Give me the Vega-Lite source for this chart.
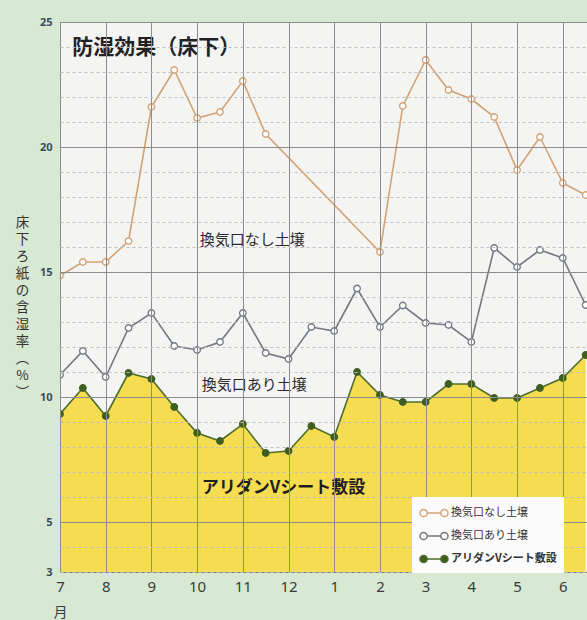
{
  "$schema": "https://vega.github.io/schema/vega-lite/v6.json",
  "width": 527,
  "height": 550,
  "autosize": {"type": "none"},
  "padding": {"left": 60, "right": 0, "top": 22, "bottom": 48},
  "background": "#d7e8d3",
  "config": {
    "view": {"fill": "#f4f5f3", "stroke": "#7d7d7d", "strokeWidth": 1},
    "font": "Noto Sans"
  },
  "datasets": {
    "series": [
      {"t": 0, "series": "換気口なし土壌", "v": 14.85},
      {"t": 0.5, "series": "換気口なし土壌", "v": 15.4},
      {"t": 1, "series": "換気口なし土壌", "v": 15.4},
      {"t": 1.5, "series": "換気口なし土壌", "v": 16.24},
      {"t": 2, "series": "換気口なし土壌", "v": 21.6},
      {"t": 2.5, "series": "換気口なし土壌", "v": 23.08},
      {"t": 3, "series": "換気口なし土壌", "v": 21.16},
      {"t": 3.5, "series": "換気口なし土壌", "v": 21.4},
      {"t": 4, "series": "換気口なし土壌", "v": 22.64},
      {"t": 4.5, "series": "換気口なし土壌", "v": 20.52},
      {"t": 7, "series": "換気口なし土壌", "v": 15.8},
      {"t": 7.5, "series": "換気口なし土壌", "v": 21.64},
      {"t": 8, "series": "換気口なし土壌", "v": 23.48},
      {"t": 8.5, "series": "換気口なし土壌", "v": 22.28},
      {"t": 9, "series": "換気口なし土壌", "v": 21.92},
      {"t": 9.5, "series": "換気口なし土壌", "v": 21.2},
      {"t": 10, "series": "換気口なし土壌", "v": 19.08},
      {"t": 10.5, "series": "換気口なし土壌", "v": 20.4},
      {"t": 11, "series": "換気口なし土壌", "v": 18.56},
      {"t": 11.5, "series": "換気口なし土壌", "v": 18.08},
      {"t": 0, "series": "換気口あり土壌", "v": 10.88},
      {"t": 0.5, "series": "換気口あり土壌", "v": 11.84},
      {"t": 1, "series": "換気口あり土壌", "v": 10.8},
      {"t": 1.5, "series": "換気口あり土壌", "v": 12.76},
      {"t": 2, "series": "換気口あり土壌", "v": 13.36},
      {"t": 2.5, "series": "換気口あり土壌", "v": 12.04},
      {"t": 3, "series": "換気口あり土壌", "v": 11.88},
      {"t": 3.5, "series": "換気口あり土壌", "v": 12.2},
      {"t": 4, "series": "換気口あり土壌", "v": 13.36},
      {"t": 4.5, "series": "換気口あり土壌", "v": 11.76},
      {"t": 5, "series": "換気口あり土壌", "v": 11.52},
      {"t": 5.5, "series": "換気口あり土壌", "v": 12.8},
      {"t": 6, "series": "換気口あり土壌", "v": 12.64},
      {"t": 6.5, "series": "換気口あり土壌", "v": 14.34},
      {"t": 7, "series": "換気口あり土壌", "v": 12.8},
      {"t": 7.5, "series": "換気口あり土壌", "v": 13.66},
      {"t": 8, "series": "換気口あり土壌", "v": 12.96},
      {"t": 8.5, "series": "換気口あり土壌", "v": 12.88},
      {"t": 9, "series": "換気口あり土壌", "v": 12.2},
      {"t": 9.5, "series": "換気口あり土壌", "v": 15.96},
      {"t": 10, "series": "換気口あり土壌", "v": 15.2},
      {"t": 10.5, "series": "換気口あり土壌", "v": 15.88},
      {"t": 11, "series": "換気口あり土壌", "v": 15.56},
      {"t": 11.5, "series": "換気口あり土壌", "v": 13.68},
      {"t": 0, "series": "アリダンVシート敷設", "v": 9.32},
      {"t": 0.5, "series": "アリダンVシート敷設", "v": 10.36},
      {"t": 1, "series": "アリダンVシート敷設", "v": 9.24},
      {"t": 1.5, "series": "アリダンVシート敷設", "v": 10.96},
      {"t": 2, "series": "アリダンVシート敷設", "v": 10.72},
      {"t": 2.5, "series": "アリダンVシート敷設", "v": 9.6},
      {"t": 3, "series": "アリダンVシート敷設", "v": 8.56},
      {"t": 3.5, "series": "アリダンVシート敷設", "v": 8.24},
      {"t": 4, "series": "アリダンVシート敷設", "v": 8.92},
      {"t": 4.5, "series": "アリダンVシート敷設", "v": 7.76},
      {"t": 5, "series": "アリダンVシート敷設", "v": 7.84},
      {"t": 5.5, "series": "アリダンVシート敷設", "v": 8.84},
      {"t": 6, "series": "アリダンVシート敷設", "v": 8.4},
      {"t": 6.5, "series": "アリダンVシート敷設", "v": 11.0},
      {"t": 7, "series": "アリダンVシート敷設", "v": 10.08},
      {"t": 7.5, "series": "アリダンVシート敷設", "v": 9.8},
      {"t": 8, "series": "アリダンVシート敷設", "v": 9.8},
      {"t": 8.5, "series": "アリダンVシート敷設", "v": 10.52},
      {"t": 9, "series": "アリダンVシート敷設", "v": 10.52},
      {"t": 9.5, "series": "アリダンVシート敷設", "v": 9.96},
      {"t": 10, "series": "アリダンVシート敷設", "v": 9.96},
      {"t": 10.5, "series": "アリダンVシート敷設", "v": 10.36},
      {"t": 11, "series": "アリダンVシート敷設", "v": 10.76},
      {"t": 11.5, "series": "アリダンVシート敷設", "v": 11.68}
    ]
  },
  "encoding": {
    "x": {
      "field": "t", "type": "quantitative",
      "scale": {"domain": [0, 11.53], "nice": false, "zero": false},
      "axis": {
        "values": [0, 1, 2, 3, 4, 5, 6, 7, 8, 9, 10, 11],
        "labelExpr": "(datum.value + 6) % 12 + 1",
        "domain": false, "ticks": false,
        "grid": true, "gridColor": "#8c8c8c", "gridWidth": 1,
        "labelFont": "Noto Sans", "labelFontSize": 15, "labelColor": "#3a3a3a",
        "labelPadding": 7, "labelFlush": false,
        "title": "月", "titleFont": "Noto Sans CJK JP", "titleFontSize": 14,
        "titleFontWeight": "normal", "titleColor": "#3a3a3a",
        "titleX": 0, "titleY": 40, "titleAlign": "center", "titleBaseline": "middle",
        "zindex": 1
      }
    },
    "y": {
      "field": "v", "type": "quantitative",
      "scale": {"domain": [3, 25], "nice": false, "zero": false},
      "axis": {
        "values": [3, 4, 5, 6, 7, 8, 9, 10, 11, 12, 13, 14, 15, 16, 17, 18, 19, 20, 21, 22, 23, 24, 25],
        "labelExpr": "indexof([3, 5, 10, 15, 20, 25], datum.value) >= 0 ? datum.label : ''",
        "domain": false, "ticks": false,
        "grid": true,
        "gridColor": {"condition": {"test": "datum.value % 5 === 0", "value": "#8c8c8c"}, "value": "#bdbdbd"},
        "gridDash": {"condition": {"test": "datum.value % 5 === 0", "value": []}, "value": [3, 3]},
        "labelFont": "Noto Sans", "labelFontSize": 11, "labelFontWeight": "bold", "labelColor": "#3d4b5c",
        "labelPadding": 8,
        "title": ["床", "下", "ろ", "紙", "の", "含", "湿", "率", "︵", "%", "︶"],
        "titleFont": "Noto Sans CJK JP", "titleFontSize": 13.5, "titleFontWeight": "normal",
        "titleColor": "#333333", "titleAngle": 0, "titleLineHeight": 17,
        "titleX": -38, "titleY": 193, "titleAlign": "center", "titleBaseline": "top",
        "zindex": 1
      }
    }
  },
  "layer": [
    {
      "data": {"name": "series"},
      "transform": [{"filter": "datum.series === 'アリダンVシート敷設'"}],
      "mark": {"type": "area", "color": "#f6dc50", "clip": true}
    },
    {
      "data": {"name": "series"},
      "mark": {"type": "line", "strokeWidth": 1.6, "clip": true},
      "encoding": {
        "color": {
          "field": "series", "type": "nominal",
          "scale": {"domain": ["換気口なし土壌", "換気口あり土壌", "アリダンVシート敷設"], "range": ["#d3a274", "#737883", "#4c6d2b"]},
          "legend": {
            "title": null, "orient": "none", "legendX": 352, "legendY": 475,
            "fillColor": "#fbfbfb", "padding": 7, "rowPadding": 7,
            "symbolType": "M-0.1,0A0.45,0.45 0 1 1 -1,0A0.45,0.45 0 1 1 -0.1,0H1.6A0.45,0.45 0 1 1 2.5,0A0.45,0.45 0 1 1 1.6,0",
            "symbolSize": 256, "symbolStrokeWidth": 1.5, "labelOffset": 14,
            "labelFont": "Noto Sans CJK JP", "labelFontSize": 11, "labelColor": "#333333",
            "zindex": 2,
            "encode": {
              "symbols": {"update": {"fill": {"signal": "datum.value === 'アリダンVシート敷設' ? '#3f5f22' : '#ffffff'"}}},
              "labels": {"update": {"fontWeight": {"signal": "datum.value === 'アリダンVシート敷設' ? 'bold' : 'normal'"}}}
            }
          }
        }
      }
    },
    {
      "data": {"name": "series"},
      "mark": {"type": "point", "size": 42, "strokeWidth": 1.3, "opacity": 1, "clip": true},
      "encoding": {
        "stroke": {
          "field": "series", "type": "nominal",
          "scale": {"domain": ["換気口なし土壌", "換気口あり土壌", "アリダンVシート敷設"], "range": ["#d3a274", "#737883", "#3f5f22"]},
          "legend": null
        },
        "fill": {"condition": {"test": "datum.series === 'アリダンVシート敷設'", "value": "#3f5f22"}, "value": "#ffffff"}
      }
    },
    {
      "data": {"values": [{"t": 0.27, "v": 23.95, "label": "防湿効果（床下）"}]},
      "mark": {"type": "text", "align": "left", "baseline": "middle", "font": "Noto Sans CJK JP", "fontSize": 21, "fontWeight": "bold", "color": "#222222"},
      "encoding": {"text": {"field": "label"}}
    },
    {
      "data": {"values": [{"t": 3.06, "v": 16.3, "label": "換気口なし土壌"}, {"t": 3.1, "v": 10.5, "label": "換気口あり土壌"}]},
      "mark": {"type": "text", "align": "left", "baseline": "middle", "font": "Noto Sans CJK JP", "fontSize": 15, "color": "#2a2a2a"},
      "encoding": {"text": {"field": "label"}}
    },
    {
      "data": {"values": [{"t": 3.1, "v": 6.36, "label": "アリダンVシート敷設"}]},
      "mark": {"type": "text", "align": "left", "baseline": "middle", "font": "Noto Sans CJK JP", "fontSize": 17, "fontWeight": "bold", "color": "#1e1e1e"},
      "encoding": {"text": {"field": "label"}}
    }
  ]
}
